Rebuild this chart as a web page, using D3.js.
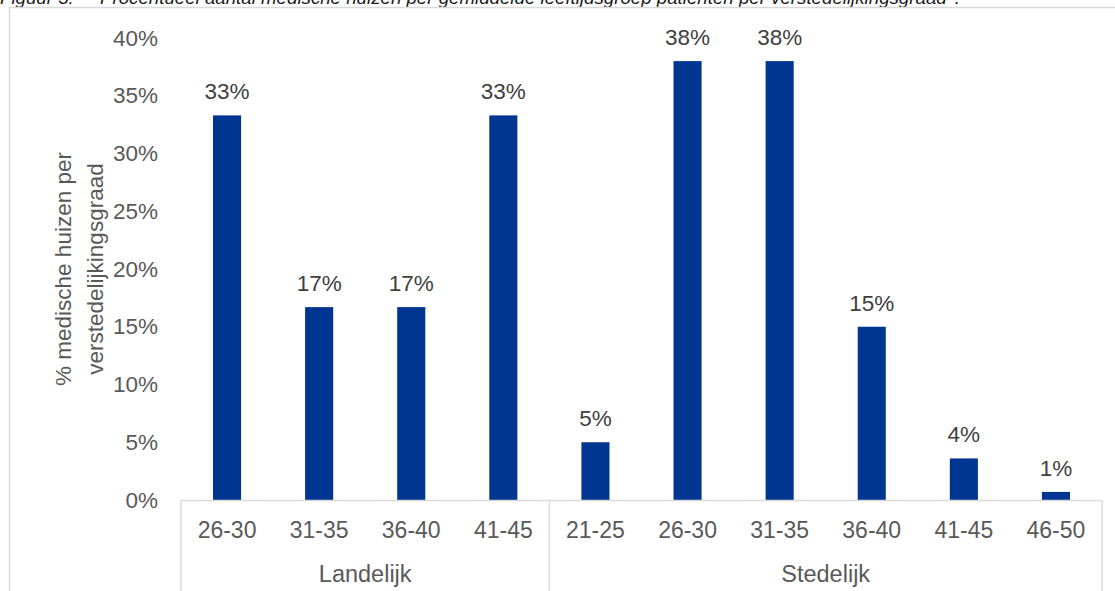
<!DOCTYPE html>
<html>
<head>
<meta charset="utf-8">
<script src="https://cdn.jsdelivr.net/npm/d3@7"></script>
<style>
  html, body { margin: 0; padding: 0; background: #fff; }
  svg { display: block; font-family: "Liberation Sans", Arial, sans-serif; }
</style>
</head>
<body>
<svg id="chart" width="1115" height="591"></svg>
<script>
// ---- data ----
const groups = ["Landelijk", "Stedelijk"];
const categories = [
  ["26-30", "31-35", "36-40", "41-45"],
  ["21-25", "26-30", "31-35", "36-40", "41-45", "46-50"]
];
const values = [
  [33.3, 16.7, 16.7, 33.3],
  [5.0, 38.0, 38.0, 15.0, 3.6, 0.7]
];
const yTicks = [0, 5, 10, 15, 20, 25, 30, 35, 40];
const yTitle = ["% medische huizen per", "verstedelijkingsgraad"];
const captionLabel = "Figuur 3:";
const captionText = "Procentueel aantal medische huizen per gemiddelde leeftijdsgroep patiënten per verstedelijkingsgraad\u2074.";

(function () {
// ---- build rows ----
const rows = [];
groups.forEach((g, gi) => {
  categories[gi].forEach((c, ci) => {
    rows.push({ key: g + "|" + c, group: g, cat: c, value: values[gi][ci] });
  });
});

const svg = d3.select("#chart");
const pLeft = 181, pRight = 1102, pTop = 38, pBottom = 500;

const x = d3.scaleBand()
  .domain(rows.map(d => d.key))
  .range([pLeft, pRight])
  .paddingInner(0.695)
  .paddingOuter(0.3475);
const step = x.step();

const y = d3.scaleLinear().domain([0, 40]).range([pBottom, pTop]);

// caption (partly above the visible area, as in the source)
const cap = svg.append("text")
  .attr("y", 4)
  .attr("font-size", 18.7)
  .attr("font-style", "italic")
  .attr("fill", "#1a1a1a");
cap.append("tspan").attr("x", 0).text(captionLabel);
cap.append("tspan").attr("x", 100).text(captionText);

// outer frame
svg.append("path")
  .attr("d", `M9.5,591 V7.5 H1115`)
  .attr("fill", "none")
  .attr("stroke", "#d9d9d9")
  .attr("stroke-width", 1.5);

// bars
svg.append("g").selectAll("rect")
  .data(rows)
  .join("rect")
  .attr("x", d => x(d.key))
  .attr("width", x.bandwidth())
  .attr("y", d => y(d.value))
  .attr("height", d => y(0) - y(d.value))
  .attr("fill", "#003591");

// data labels
svg.append("g").selectAll("text")
  .data(rows)
  .join("text")
  .attr("x", d => x(d.key) + x.bandwidth() / 2)
  .attr("y", d => y(d.value) - 16)
  .attr("text-anchor", "middle")
  .attr("font-size", 22.5)
  .attr("fill", "#404040")
  .text(d => Math.round(d.value) + "%");

// y axis labels
const yAxis = d3.axisLeft(y).tickValues(yTicks).tickFormat(d => d + "%").tickSize(0).tickPadding(23);
const ya = svg.append("g").attr("transform", `translate(${pLeft},0)`).call(yAxis);
ya.select(".domain").remove();
ya.selectAll("text").attr("font-size", 22.5).attr("fill", "#595959")
  .attr("font-family", "'Liberation Sans', Arial, sans-serif");

// y title
const yt = svg.append("text")
  .attr("transform", `translate(0,${(pTop + pBottom) / 2}) rotate(-90)`)
  .attr("text-anchor", "middle")
  .attr("font-size", 22.5)
  .attr("fill", "#595959");
yt.append("tspan").attr("x", 0).attr("y", 71).text(yTitle[0]);
yt.append("tspan").attr("x", 0).attr("y", 103).text(yTitle[1]);

// category axis
const xa = svg.append("g");
xa.append("line")
  .attr("x1", pLeft).attr("x2", pRight)
  .attr("y1", pBottom + 0.5).attr("y2", pBottom + 0.5)
  .attr("stroke", "#d9d9d9").attr("stroke-width", 1.5);

// group separators
let idx = 0;
const bounds = [pLeft];
categories.forEach(cs => { idx += cs.length; bounds.push(pLeft + step * idx); });
bounds[bounds.length - 1] = pRight;
xa.selectAll("line.sep")
  .data(bounds)
  .join("line")
  .attr("class", "sep")
  .attr("x1", d => d).attr("x2", d => d)
  .attr("y1", pBottom).attr("y2", 591)
  .attr("stroke", "#d9d9d9").attr("stroke-width", 1.5);

xa.selectAll("text.cat")
  .data(rows)
  .join("text")
  .attr("class", "cat")
  .attr("x", d => x(d.key) + x.bandwidth() / 2)
  .attr("y", 538)
  .attr("text-anchor", "middle")
  .attr("font-size", 23)
  .attr("fill", "#595959")
  .text(d => d.cat);

xa.selectAll("text.grp")
  .data(groups)
  .join("text")
  .attr("class", "grp")
  .attr("x", (d, i) => (bounds[i] + bounds[i + 1]) / 2)
  .attr("y", 582)
  .attr("text-anchor", "middle")
  .attr("font-size", 23.5)
  .attr("fill", "#595959")
  .text(d => d);
})();
</script>
</body>
</html>
